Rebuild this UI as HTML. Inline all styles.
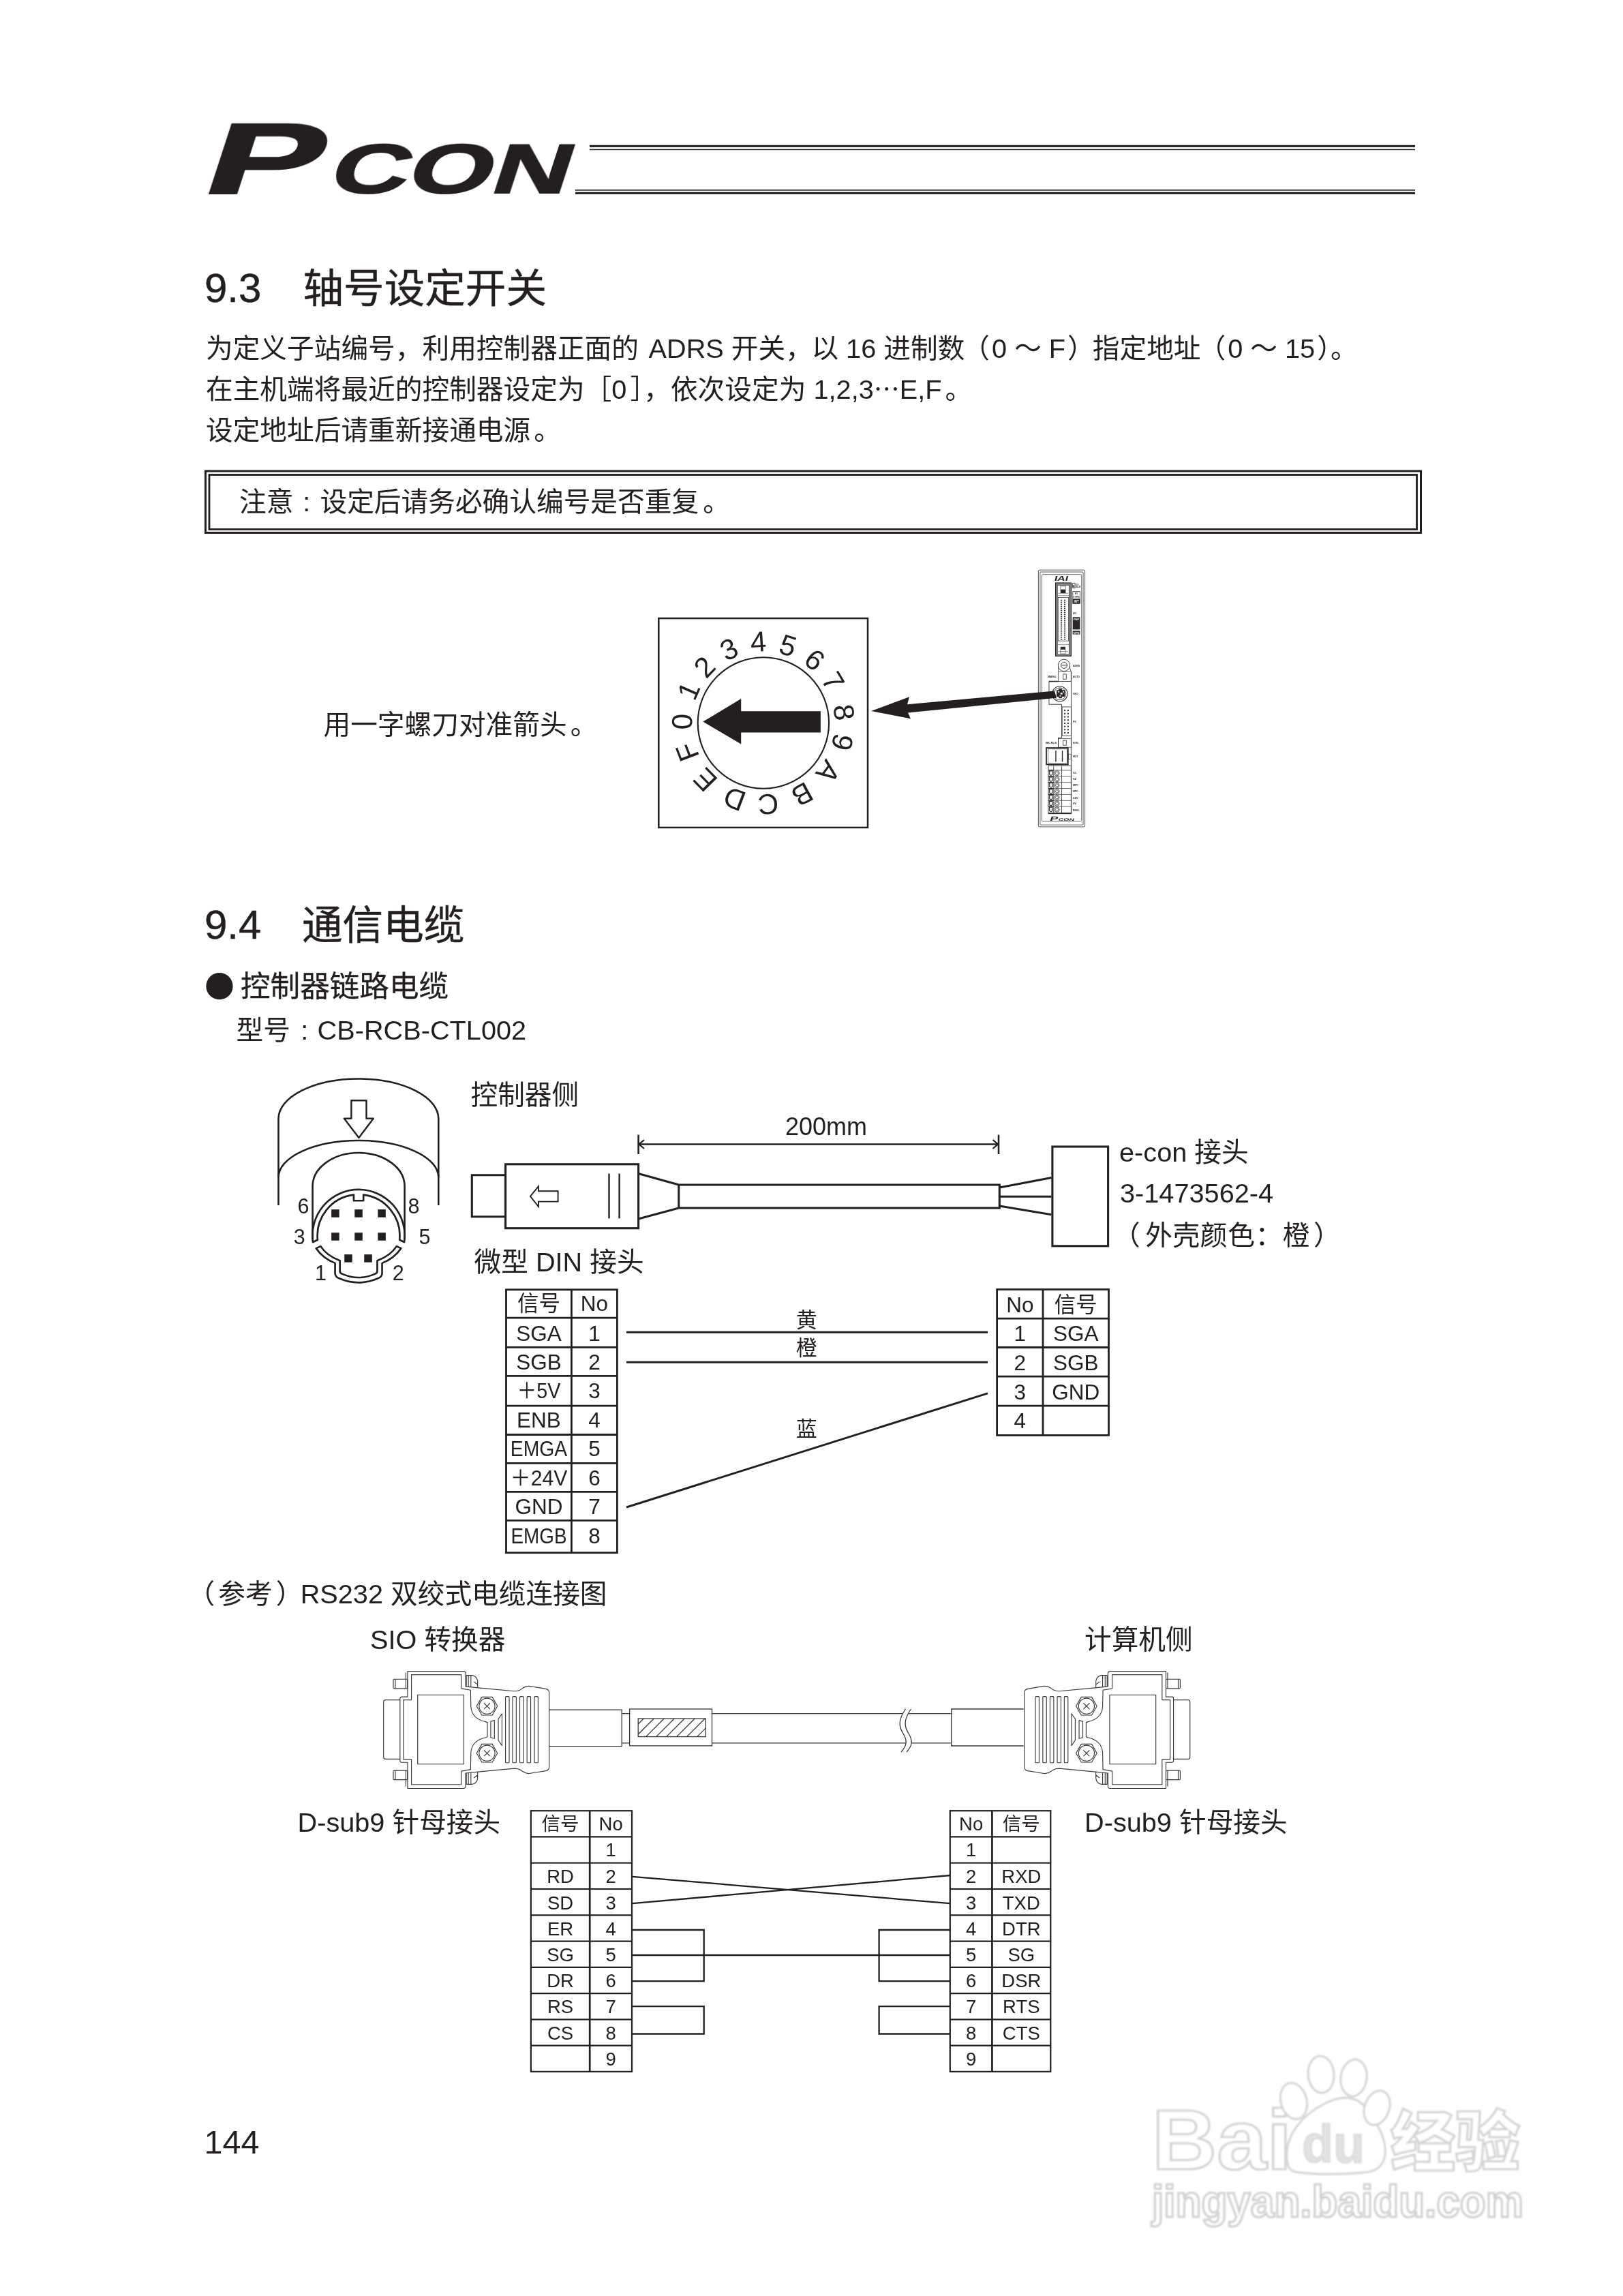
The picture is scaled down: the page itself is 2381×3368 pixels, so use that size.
<!DOCTYPE html>
<html lang="zh-CN">
<head>
<meta charset="utf-8">
<title>PCON 9.3 轴号设定开关 / 9.4 通信电缆</title>
<style>
html,body{margin:0;padding:0;background:#fff;}
body{width:2381px;height:3368px;overflow:hidden;}
svg{display:block;}
svg text{font-family:"Liberation Sans","Noto Sans CJK SC",sans-serif;font-weight:400;fill:#231f20;stroke:none;}
svg .ln{fill:none;stroke:#231f20;}
</style>
</head>
<body>
<svg width="2381" height="3368" viewBox="0 0 2381 3368">
<rect x="0" y="0" width="2381" height="3368" fill="#fff"/>
<g class="ln" fill="none" stroke="#231f20" opacity="0.999">
<g id="logo">
<text transform="translate(292,283) skewX(-18) scale(1.74,1)" x="0" y="0" font-size="147" style="font-weight:700;stroke:#231f20;stroke-width:3px;stroke-linejoin:miter">P</text>
<text transform="translate(478.5,283.3) skewX(-18) scale(1.558,1)" x="0" y="0" font-size="101.5" style="font-weight:700;stroke:#231f20;stroke-width:2px;stroke-linejoin:miter">CON</text>
</g>
<rect x="865" y="212.8" width="1211" height="3.1" stroke-width="0" fill="#231f20" stroke="none"/>
<rect x="865" y="218.7" width="1211" height="1.5" stroke-width="0" fill="#231f20" stroke="none"/>
<rect x="844" y="278.1" width="1232" height="1.6" stroke-width="0" fill="#231f20" stroke="none"/>
<rect x="844" y="281.8" width="1232" height="3.1" stroke-width="0" fill="#231f20" stroke="none"/>
<text x="300" y="442.5" font-size="60" text-anchor="start" style="stroke:#231f20;stroke-width:0.5px">9.3</text>
<text x="444.5" y="443.8" font-size="59.6" text-anchor="start" style="stroke:#231f20;stroke-width:0.45px">轴号设定开关</text>
<text x="302" y="525" font-size="39.7" text-anchor="start" >为定义子站编号，利用控制器正面的<tspan dx="3.5"> </tspan>ADRS 开关，<tspan dx="-1.5">以</tspan> 16 进制数<tspan dx="-3">（</tspan><tspan dx="3">0</tspan> ～ F<tspan dx="3">）</tspan><tspan dx="-3">指定地址</tspan><tspan dx="-3">（</tspan><tspan dx="3">0</tspan> ～ 15<tspan dx="3">）</tspan>。</text>
<text x="302" y="585" font-size="39.7" text-anchor="start" >在主机端将最近的控制器设定为［0<tspan dx="5">］</tspan>，依次设定为<tspan dx="0.1"> </tspan>1,2,3<tspan style="font-family:'Noto Sans CJK SC',sans-serif" font-size="38">…</tspan>E,F<tspan dx="5">。</tspan></text>
<text x="302" y="645" font-size="39.7" text-anchor="start" >设定地址后请重新接通电源<tspan dx="5">。</tspan></text>
<rect x="301.5" y="691" width="1783.0" height="90.5" stroke-width="3" />
<rect x="307" y="696.5" width="1771.5" height="80.0" stroke-width="2.8" />
<text x="351" y="750" font-size="39.7" text-anchor="start" >注意<tspan dx="13.9">:</tspan><tspan dx="14.2">设定后请务必确认编号是否重复</tspan><tspan dx="6">。</tspan></text>
<text x="474.5" y="1077" font-size="39.7" text-anchor="start" >用一字螺刀对准箭头<tspan dx="5">。</tspan></text>
<rect x="966.3" y="907" width="306.70000000000005" height="306.9000000000001" stroke-width="2.5" />
<circle cx="1119.9" cy="1060.5" r="96.2" stroke-width="2.1"/>
<g id="dial" font-size="42" text-anchor="middle">
<text transform="translate(1000.1,1058.6) rotate(270.9)" x="0" y="15">0</text>
<text transform="translate(1009.9,1013.1) rotate(293.3)" x="0" y="15">1</text>
<text transform="translate(1033.1,977.9) rotate(313.6)" x="0" y="15">2</text>
<text transform="translate(1069.1,952.0) rotate(334.9)" x="0" y="15">3</text>
<text transform="translate(1112.4,940.9) rotate(356.4)" x="0" y="15">4</text>
<text transform="translate(1156.3,946.4) rotate(377.7)" x="0" y="15">5</text>
<text transform="translate(1195.5,967.5) rotate(399.1)" x="0" y="15">6</text>
<text transform="translate(1222.7,999.0) rotate(419.1)" x="0" y="15">7</text>
<text transform="translate(1238.7,1044.9) rotate(442.5)" x="0" y="15">8</text>
<text transform="translate(1236.3,1088.9) rotate(463.7)" x="0" y="15">9</text>
<text transform="translate(1215.7,1132.4) rotate(486.9)" x="0" y="15">A</text>
<text transform="translate(1177.2,1165.7) rotate(511.4)" x="0" y="15">B</text>
<text transform="translate(1127.0,1180.1) rotate(536.6)" x="0" y="15">C</text>
<text transform="translate(1077.4,1172.5) rotate(560.8)" x="0" y="15">D</text>
<text transform="translate(1034.3,1144.3) rotate(585.6)" x="0" y="15">E</text>
<text transform="translate(1008.0,1103.2) rotate(609.1)" x="0" y="15">F</text>
</g>
<path d="M1031.3 1058.6 L1087.2 1025.1 L1087.2 1043.3 L1203.9 1043.3 L1203.9 1074.4 L1087.2 1074.4 L1087.2 1091.5 Z" fill="#231f20" stroke="none"/>
<g id="device" transform="translate(1500,825) scale(0.087085)" stroke="#2b2728" fill="none"><rect x="268" y="128" width="784" height="4326" rx="22" fill="#fff" stroke-width="9"/>
<rect x="297" y="160" width="726" height="4262" rx="14" stroke="#8d8d8d" stroke-width="16"/>
<rect x="326" y="203" width="670" height="4156" rx="18" stroke-width="8"/>
<text transform="translate(530,312) skewX(-14) scale(1.55,1)" x="0" y="0" font-size="118" style="font-weight:700" fill="#2b2728" stroke="none">IAI</text>
<rect x="558" y="345" width="262" height="1232" fill="#8a8a8a" stroke-width="14"/>
<rect x="588" y="385" width="196" height="1165" fill="#fff" stroke-width="8"/>
<rect x="600" y="592" width="176" height="730" fill="#fff" stroke-width="8"/>
<rect x="643" y="628" width="24" height="18" fill="#2b2728" stroke="none"/>
<rect x="700" y="628" width="24" height="18" fill="#2b2728" stroke="none"/>
<rect x="643" y="663" width="24" height="18" fill="#2b2728" stroke="none"/>
<rect x="700" y="663" width="24" height="18" fill="#2b2728" stroke="none"/>
<rect x="643" y="697" width="24" height="18" fill="#2b2728" stroke="none"/>
<rect x="700" y="697" width="24" height="18" fill="#2b2728" stroke="none"/>
<rect x="643" y="732" width="24" height="18" fill="#2b2728" stroke="none"/>
<rect x="700" y="732" width="24" height="18" fill="#2b2728" stroke="none"/>
<rect x="643" y="766" width="24" height="18" fill="#2b2728" stroke="none"/>
<rect x="700" y="766" width="24" height="18" fill="#2b2728" stroke="none"/>
<rect x="643" y="801" width="24" height="18" fill="#2b2728" stroke="none"/>
<rect x="700" y="801" width="24" height="18" fill="#2b2728" stroke="none"/>
<rect x="643" y="836" width="24" height="18" fill="#2b2728" stroke="none"/>
<rect x="700" y="836" width="24" height="18" fill="#2b2728" stroke="none"/>
<rect x="643" y="870" width="24" height="18" fill="#2b2728" stroke="none"/>
<rect x="700" y="870" width="24" height="18" fill="#2b2728" stroke="none"/>
<rect x="643" y="905" width="24" height="18" fill="#2b2728" stroke="none"/>
<rect x="700" y="905" width="24" height="18" fill="#2b2728" stroke="none"/>
<rect x="643" y="939" width="24" height="18" fill="#2b2728" stroke="none"/>
<rect x="700" y="939" width="24" height="18" fill="#2b2728" stroke="none"/>
<rect x="643" y="974" width="24" height="18" fill="#2b2728" stroke="none"/>
<rect x="700" y="974" width="24" height="18" fill="#2b2728" stroke="none"/>
<rect x="643" y="1009" width="24" height="18" fill="#2b2728" stroke="none"/>
<rect x="700" y="1009" width="24" height="18" fill="#2b2728" stroke="none"/>
<rect x="643" y="1043" width="24" height="18" fill="#2b2728" stroke="none"/>
<rect x="700" y="1043" width="24" height="18" fill="#2b2728" stroke="none"/>
<rect x="643" y="1078" width="24" height="18" fill="#2b2728" stroke="none"/>
<rect x="700" y="1078" width="24" height="18" fill="#2b2728" stroke="none"/>
<rect x="643" y="1112" width="24" height="18" fill="#2b2728" stroke="none"/>
<rect x="700" y="1112" width="24" height="18" fill="#2b2728" stroke="none"/>
<rect x="643" y="1147" width="24" height="18" fill="#2b2728" stroke="none"/>
<rect x="700" y="1147" width="24" height="18" fill="#2b2728" stroke="none"/>
<rect x="643" y="1182" width="24" height="18" fill="#2b2728" stroke="none"/>
<rect x="700" y="1182" width="24" height="18" fill="#2b2728" stroke="none"/>
<rect x="643" y="1216" width="24" height="18" fill="#2b2728" stroke="none"/>
<rect x="700" y="1216" width="24" height="18" fill="#2b2728" stroke="none"/>
<rect x="643" y="1251" width="24" height="18" fill="#2b2728" stroke="none"/>
<rect x="700" y="1251" width="24" height="18" fill="#2b2728" stroke="none"/>
<rect x="643" y="1285" width="24" height="18" fill="#2b2728" stroke="none"/>
<rect x="700" y="1285" width="24" height="18" fill="#2b2728" stroke="none"/>
<rect x="640" y="455" width="88" height="62" fill="#2b2728" stroke="none"/>
<path d="M640 455 L640 400 L728 400 L728 455 M588 560 L784 560 M600 520 L770 520" stroke-width="6"/>
<rect x="640" y="1422" width="84" height="46" fill="#2b2728" stroke="none"/>
<path d="M640 1468 L640 1540 L724 1540 L724 1468 M588 1385 L784 1385 M600 1500 L770 1500" stroke-width="6"/>
<rect x="846" y="352" width="40" height="78" stroke-width="10"/>
<rect x="856" y="380" width="18" height="40" fill="#2b2728" stroke="none"/>
<text x="905" y="385" font-size="34" style="font-weight:700" stroke="none">0V</text>
<text x="905" y="428" font-size="34" style="font-weight:700" stroke="none">ALM</text>
<rect x="848" y="488" width="120" height="204" stroke-width="9"/>
<text x="908" y="540" font-size="40" text-anchor="middle" style="font-weight:700" stroke="none">RY</text>
<text x="908" y="598" font-size="40" text-anchor="middle" style="font-weight:700" stroke="none">TYPE</text>
<rect x="846" y="612" width="124" height="82" fill="#2b2728" stroke="none"/>
<text x="908" y="678" font-size="52" text-anchor="middle" style="font-weight:700;fill:#fff" stroke="none">INT</text>
<text x="848" y="868" font-size="46" style="font-weight:700" stroke="none">I/O</text>
<rect x="846" y="922" width="124" height="208" fill="#2b2728" stroke="none"/>
<text x="908" y="972" font-size="46" text-anchor="middle" style="font-weight:700;fill:#fff" stroke="none">PNP</text>
<rect x="846" y="1152" width="124" height="60" fill="#2b2728" stroke="none"/>
<text x="908" y="1203" font-size="46" text-anchor="middle" style="font-weight:700;fill:#fff" stroke="none">NPN</text>
<path d="M605 2000 L605 1790 A100 100 0 1 1 800 1790 L820 1840 L820 2000" fill="#fff" stroke-width="9"/>
<circle cx="700" cy="1733" r="100" fill="#fff" stroke-width="10"/>
<circle cx="700" cy="1733" r="52" stroke-width="10"/>
<line x1="650" y1="1733" x2="750" y2="1733" stroke-width="10"/>
<line x1="610" y1="1838" x2="815" y2="1838" stroke-width="8"/>
<rect x="686" y="1882" width="52" height="84" stroke-width="9"/>
<text x="850" y="1752" font-size="46" style="font-weight:700" stroke="none" textLength="116" lengthAdjust="spacingAndGlyphs">ADRS</text>
<text x="850" y="1945" font-size="46" style="font-weight:700" stroke="none" textLength="116" lengthAdjust="spacingAndGlyphs">AUTO</text>
<text x="850" y="2225" font-size="46" style="font-weight:700" stroke="none" textLength="87" lengthAdjust="spacingAndGlyphs">SIO</text>
<text x="850" y="2704" font-size="46" style="font-weight:700" stroke="none" textLength="58" lengthAdjust="spacingAndGlyphs">PG</text>
<text x="850" y="3059" font-size="46" style="font-weight:700" stroke="none" textLength="87" lengthAdjust="spacingAndGlyphs">NOM</text>
<text x="850" y="3287" font-size="46" style="font-weight:700" stroke="none" textLength="87" lengthAdjust="spacingAndGlyphs">MOT</text>
<text x="850" y="3564" font-size="46" style="font-weight:700" stroke="none" textLength="58" lengthAdjust="spacingAndGlyphs">S1</text>
<text x="850" y="3667" font-size="46" style="font-weight:700" stroke="none" textLength="58" lengthAdjust="spacingAndGlyphs">S2</text>
<text x="850" y="3772" font-size="46" style="font-weight:700" stroke="none" textLength="87" lengthAdjust="spacingAndGlyphs">MPI</text>
<text x="850" y="3874" font-size="46" style="font-weight:700" stroke="none" textLength="87" lengthAdjust="spacingAndGlyphs">MPO</text>
<text x="850" y="3979" font-size="46" style="font-weight:700" stroke="none" textLength="87" lengthAdjust="spacingAndGlyphs">24V</text>
<text x="850" y="4082" font-size="46" style="font-weight:700" stroke="none" textLength="58" lengthAdjust="spacingAndGlyphs">0V</text>
<text x="850" y="4186" font-size="46" style="font-weight:700" stroke="none" textLength="116" lengthAdjust="spacingAndGlyphs">EMG-</text>
<text x="425" y="1945" font-size="46" style="font-weight:700" stroke="none" textLength="145" lengthAdjust="spacingAndGlyphs">MANU</text>
<text x="390" y="3059" font-size="46" style="font-weight:700" stroke="none" textLength="185" lengthAdjust="spacingAndGlyphs">BK RLS</text>
<path d="M820 2004 L447 2004 L447 2391 L660 2391 L660 2954 L603 2954 L603 3114" stroke-width="10"/>
<path d="M447 2004 L600 2004" stroke-width="18"/>
<line x1="820" y1="1840" x2="820" y2="4234" stroke-width="10"/>
<circle cx="630" cy="2214" r="128" fill="#fff" stroke-width="12"/>
<circle cx="630" cy="2214" r="103" stroke-width="9"/>
<path d="M575 2150 L610 2150 L610 2128 L665 2128 L665 2150 L715 2150 L715 2262 L665 2262 L665 2288 L610 2288 L610 2262 L575 2262 Z" fill="#2b2728" stroke="none"/>
<rect x="640" y="2196" width="34" height="28" fill="#fff" stroke="none"/>
<rect x="600" y="2170" width="22" height="20" fill="#fff" stroke="none"/>
<rect x="682" y="2170" width="18" height="20" fill="#fff" stroke="none"/>
<rect x="625" y="2240" width="22" height="18" fill="#fff" stroke="none"/>
<rect x="668" y="2434" width="152" height="485" stroke-width="9"/>
<rect x="700" y="2482" width="24" height="22" fill="#2b2728" stroke="none"/>
<rect x="756" y="2482" width="24" height="22" fill="#2b2728" stroke="none"/>
<rect x="700" y="2536" width="24" height="22" fill="#2b2728" stroke="none"/>
<rect x="756" y="2536" width="24" height="22" fill="#2b2728" stroke="none"/>
<rect x="700" y="2590" width="24" height="22" fill="#2b2728" stroke="none"/>
<rect x="756" y="2590" width="24" height="22" fill="#2b2728" stroke="none"/>
<rect x="700" y="2644" width="24" height="22" fill="#2b2728" stroke="none"/>
<rect x="756" y="2644" width="24" height="22" fill="#2b2728" stroke="none"/>
<rect x="700" y="2698" width="24" height="22" fill="#2b2728" stroke="none"/>
<rect x="756" y="2698" width="24" height="22" fill="#2b2728" stroke="none"/>
<rect x="700" y="2752" width="24" height="22" fill="#2b2728" stroke="none"/>
<rect x="756" y="2752" width="24" height="22" fill="#2b2728" stroke="none"/>
<rect x="700" y="2806" width="24" height="22" fill="#2b2728" stroke="none"/>
<rect x="756" y="2806" width="24" height="22" fill="#2b2728" stroke="none"/>
<rect x="700" y="2860" width="24" height="22" fill="#2b2728" stroke="none"/>
<rect x="756" y="2860" width="24" height="22" fill="#2b2728" stroke="none"/>
<rect x="603" y="2967" width="217" height="147" stroke-width="8"/>
<rect x="682" y="2999" width="56" height="80" stroke-width="9"/>
<rect x="402" y="3124" width="365" height="280" stroke-width="20"/>
<rect x="430" y="3144" width="320" height="240" stroke-width="7"/>
<line x1="562" y1="3169" x2="562" y2="3359" stroke-width="16"/>
<line x1="672" y1="3169" x2="672" y2="3359" stroke-width="16"/>
<rect x="775" y="3229" width="42" height="85" stroke-width="7"/>
<rect x="437" y="3424" width="383" height="810" stroke-width="10"/>
<line x1="525" y1="3424" x2="525" y2="4234" stroke-width="9"/>
<line x1="660" y1="3424" x2="660" y2="4234" stroke-width="9"/>
<rect x="437" y="4214" width="383" height="22" fill="#2b2728" stroke="none"/>
<line x1="437" y1="3501" x2="820" y2="3501" stroke-width="8"/>
<path d="M455 3513 L455 3563 Q455 3585 480 3585 Q505 3585 505 3563 L505 3513 Z" fill="#fff" stroke-width="13"/>
<line x1="437" y1="3501" x2="525" y2="3501" stroke-width="14"/>
<circle cx="580" cy="3551" r="42" fill="#fff" stroke-width="9"/>
<circle cx="580" cy="3551" r="24" stroke-width="8"/>
<line x1="437" y1="3603" x2="820" y2="3603" stroke-width="8"/>
<path d="M455 3615 L455 3665 Q455 3687 480 3687 Q505 3687 505 3665 L505 3615 Z" fill="#fff" stroke-width="13"/>
<line x1="437" y1="3603" x2="525" y2="3603" stroke-width="14"/>
<circle cx="580" cy="3653" r="42" fill="#fff" stroke-width="9"/>
<circle cx="580" cy="3653" r="24" stroke-width="8"/>
<line x1="437" y1="3705" x2="820" y2="3705" stroke-width="8"/>
<path d="M455 3717 L455 3767 Q455 3789 480 3789 Q505 3789 505 3767 L505 3717 Z" fill="#fff" stroke-width="13"/>
<line x1="437" y1="3705" x2="525" y2="3705" stroke-width="14"/>
<circle cx="580" cy="3755" r="42" fill="#fff" stroke-width="9"/>
<circle cx="580" cy="3755" r="24" stroke-width="8"/>
<line x1="437" y1="3807" x2="820" y2="3807" stroke-width="8"/>
<path d="M455 3819 L455 3869 Q455 3891 480 3891 Q505 3891 505 3869 L505 3819 Z" fill="#fff" stroke-width="13"/>
<line x1="437" y1="3807" x2="525" y2="3807" stroke-width="14"/>
<circle cx="580" cy="3857" r="42" fill="#fff" stroke-width="9"/>
<circle cx="580" cy="3857" r="24" stroke-width="8"/>
<line x1="437" y1="3909" x2="820" y2="3909" stroke-width="8"/>
<path d="M455 3921 L455 3971 Q455 3993 480 3993 Q505 3993 505 3971 L505 3921 Z" fill="#fff" stroke-width="13"/>
<line x1="437" y1="3909" x2="525" y2="3909" stroke-width="14"/>
<circle cx="580" cy="3959" r="42" fill="#fff" stroke-width="9"/>
<circle cx="580" cy="3959" r="24" stroke-width="8"/>
<line x1="437" y1="4011" x2="820" y2="4011" stroke-width="8"/>
<path d="M455 4023 L455 4073 Q455 4095 480 4095 Q505 4095 505 4073 L505 4023 Z" fill="#fff" stroke-width="13"/>
<line x1="437" y1="4011" x2="525" y2="4011" stroke-width="14"/>
<circle cx="580" cy="4061" r="42" fill="#fff" stroke-width="9"/>
<circle cx="580" cy="4061" r="24" stroke-width="8"/>
<line x1="437" y1="4113" x2="820" y2="4113" stroke-width="8"/>
<path d="M455 4125 L455 4175 Q455 4197 480 4197 Q505 4197 505 4175 L505 4125 Z" fill="#fff" stroke-width="13"/>
<line x1="437" y1="4113" x2="525" y2="4113" stroke-width="14"/>
<circle cx="580" cy="4163" r="42" fill="#fff" stroke-width="9"/>
<circle cx="580" cy="4163" r="24" stroke-width="8"/>
<text transform="translate(455,4351) skewX(-18) scale(2.0,1)" x="0" y="0" font-size="104" style="font-weight:700" fill="#2b2728" stroke="none">P</text>
<text transform="translate(600,4351) skewX(-18) scale(2.0,1)" x="0" y="0" font-size="60" style="font-weight:700" fill="#2b2728" stroke="none">CON</text></g>
<path d="M1278.1 1043 L1334 1022.3 L1331 1033.3 L1547 1013.5 L1550 1023.7 L1332 1045.5 L1336 1054.2 Z" fill="#231f20" stroke="none"/>
<text x="300" y="1377" font-size="60" text-anchor="start" style="stroke:#231f20;stroke-width:0.5px">9.4</text>
<text x="443" y="1378" font-size="59.6" text-anchor="start" style="stroke:#231f20;stroke-width:0.45px">通信电缆</text>
<circle cx="322" cy="1446.7" r="19.6" fill="#231f20" stroke="none"/>
<text x="353" y="1462" font-size="43.6" text-anchor="start" style="stroke:#231f20;stroke-width:0.3px">控制器链路电缆</text>
<text x="346.5" y="1524.5" font-size="39.7" text-anchor="start" >型号<tspan dx="15.4">:</tspan><tspan dx="13.3">CB-RCB-CTL002</tspan></text>
<text x="690.5" y="1619.5" font-size="39.7" text-anchor="start" >控制器侧</text>
<text x="695.5" y="1864.5" font-size="39.7" text-anchor="start" >微型 DIN 接头</text>
<text x="1212" y="1664.7" font-size="36" text-anchor="middle" >200mm</text>
<text x="1642" y="1704" font-size="39.7" text-anchor="start" >e-con 接头</text>
<text x="1643" y="1763.5" font-size="39.7" text-anchor="start" >3-1473562-4</text>
<text x="1633" y="1826" font-size="39.7" text-anchor="start" style="letter-spacing:0.6px">（<tspan dx="7">外壳颜色：橙</tspan><tspan dx="5">）</tspan></text>
<g id="din" stroke-width="2.6" stroke-linecap="butt" stroke-linejoin="round">
<path d="M408.5 1768 L408.5 1641 A117.4 58.5 0 0 1 643.3 1641 L643.3 1768"/>
<path d="M408.5 1727 A117.4 54 0 0 1 643.3 1727"/>
<path d="M458.6 1818 L458.6 1740 A67.5 49 0 0 1 593.6 1740 L593.6 1818"/>
<path d="M515.4 1614.3 L537.5 1614.3 L537.5 1640.7 L547.8 1640.7 L526.4 1669 L504.9 1640.7 L515.4 1640.7 Z" stroke-width="2.4"/>
</g>
<g id="dinring" transform="translate(440,1730) scale(0.110905)" stroke-width="24" stroke-linejoin="round">
<path d="M172 830 A610 610 0 1 1 1380 830 L1318 800 A545 545 0 0 0 840 204 L840 282 L712 282 L712 204 A545 545 0 0 0 234 800 Z"/>
<path d="M215 912 Q300 1040 465 1108 L465 1240 Q465 1290 520 1310 Q776 1420 1032 1310 Q1087 1290 1087 1240 L1087 1108 Q1252 1040 1337 912 L1278 885 Q1200 1010 1023 1075 L1023 1215 Q1023 1240 990 1252 Q776 1345 562 1252 Q529 1240 529 1215 L529 1075 Q352 1010 274 885 Z"/>
<rect x="416" y="398" width="104" height="104" fill="#231f20" stroke="none"/>
<rect x="724" y="398" width="104" height="104" fill="#231f20" stroke="none"/>
<rect x="1031" y="398" width="104" height="104" fill="#231f20" stroke="none"/>
<rect x="416" y="705" width="104" height="104" fill="#231f20" stroke="none"/>
<rect x="724" y="705" width="104" height="104" fill="#231f20" stroke="none"/>
<rect x="1031" y="705" width="104" height="104" fill="#231f20" stroke="none"/>
<rect x="588" y="993" width="104" height="104" fill="#231f20" stroke="none"/>
<rect x="850" y="993" width="104" height="104" fill="#231f20" stroke="none"/>
</g>
<text x="445" y="1779.8" font-size="30.5" text-anchor="middle" >6</text>
<text x="606.9" y="1779.8" font-size="30.5" text-anchor="middle" >8</text>
<text x="439.2" y="1824.8" font-size="30.5" text-anchor="middle" >3</text>
<text x="622.9" y="1824.8" font-size="30.5" text-anchor="middle" >5</text>
<text x="470.5" y="1878" font-size="30.5" text-anchor="middle" >1</text>
<text x="584.2" y="1878" font-size="30.5" text-anchor="middle" >2</text>
<g id="cable1" stroke-width="3.1" stroke-linejoin="miter">
<path d="M741.6 1723.8 L692.3 1723.8 L692.3 1784.8 L741.6 1784.8"/>
<rect x="741.6" y="1707.8" width="195" height="93.9"/>
<path d="M936.6 1721.6 L995.8 1738 L1466.3 1738 L1466.3 1772 L995.8 1772 L936.6 1788"/>
<line x1="995.8" y1="1738" x2="995.8" y2="1772"/>
<line x1="893.5" y1="1721.6" x2="893.5" y2="1787.3" stroke-width="2.4"/>
<line x1="908.6" y1="1721.6" x2="908.6" y2="1787.3" stroke-width="2.4"/>
<path d="M778 1754.9 L790 1740.1 L790 1747.2 L818.6 1747.2 L818.6 1762.6 L790 1762.6 L790 1770 Z" stroke-width="1.9"/>
<line x1="1466.3" y1="1742" x2="1542.5" y2="1727.6"/>
<line x1="1466.3" y1="1755.3" x2="1542.5" y2="1755.3"/>
<line x1="1466.3" y1="1769" x2="1542.5" y2="1781.8"/>
<rect x="1543.9" y="1682" width="81.7" height="145.8"/>
</g>
<g id="dim" stroke-width="2.3">
<line x1="936.6" y1="1678.5" x2="1465" y2="1678.5"/>
<line x1="936.6" y1="1664.6" x2="936.6" y2="1693" stroke-width="2.6"/>
<line x1="1465" y1="1664.6" x2="1465" y2="1693" stroke-width="2.6"/>
<path d="M945 1672 L937.5 1678.5 L945 1685"/>
<path d="M1456.5 1672 L1464 1678.5 L1456.5 1685"/>
</g>
<g stroke-width="2.8">
<rect x="742.5" y="1891.8" width="162.89999999999998" height="385.89999999999986"/>
<line x1="838.4" y1="1891.8" x2="838.4" y2="2277.7" stroke-width="2.8"/>
<line x1="742.5" y1="1933.2" x2="905.4" y2="1933.2"/>
<line x1="742.5" y1="1976.4" x2="905.4" y2="1976.4"/>
<line x1="742.5" y1="2018.4" x2="905.4" y2="2018.4"/>
<line x1="742.5" y1="2062.1" x2="905.4" y2="2062.1"/>
<line x1="742.5" y1="2104.5" x2="905.4" y2="2104.5"/>
<line x1="742.5" y1="2146.4" x2="905.4" y2="2146.4"/>
<line x1="742.5" y1="2188.4" x2="905.4" y2="2188.4"/>
<line x1="742.5" y1="2230.4" x2="905.4" y2="2230.4"/>
</g>
<g font-size="31.5" text-anchor="middle">
<text x="790.5" y="1923.4">信号</text>
<text x="871.9" y="1923.4">No</text>
<text x="790.5" y="1967.0">SGA</text>
<text x="871.9" y="1967.0">1</text>
<text x="790.5" y="2008.9">SGB</text>
<text x="871.9" y="2008.9">2</text>
<text x="790.5" y="2051.1" textLength="64" lengthAdjust="spacingAndGlyphs">＋5V</text>
<text x="871.9" y="2051.1">3</text>
<text x="790.5" y="2093.8">ENB</text>
<text x="871.9" y="2093.8">4</text>
<text x="790.5" y="2136.3" textLength="83.4" lengthAdjust="spacingAndGlyphs">EMGA</text>
<text x="871.9" y="2136.3">5</text>
<text x="790.5" y="2178.6" textLength="84" lengthAdjust="spacingAndGlyphs">＋24V</text>
<text x="871.9" y="2178.6">6</text>
<text x="790.5" y="2220.7">GND</text>
<text x="871.9" y="2220.7">7</text>
<text x="790.5" y="2263.9" textLength="82" lengthAdjust="spacingAndGlyphs">EMGB</text>
<text x="871.9" y="2263.9">8</text>
</g>
<g stroke-width="2.8">
<rect x="1462.6" y="1891.5" width="163.9000000000001" height="213.9000000000001"/>
<line x1="1530" y1="1891.5" x2="1530" y2="2105.4" stroke-width="2.8"/>
<line x1="1462.6" y1="1934.2" x2="1626.5" y2="1934.2"/>
<line x1="1462.6" y1="1976.5" x2="1626.5" y2="1976.5"/>
<line x1="1462.6" y1="2019.2" x2="1626.5" y2="2019.2"/>
<line x1="1462.6" y1="2062.1" x2="1626.5" y2="2062.1"/>
</g>
<g font-size="31.5" text-anchor="middle">
<text x="1496.3" y="1925.0">No</text>
<text x="1578.2" y="1925.0">信号</text>
<text x="1496.3" y="1966.9">1</text>
<text x="1578.2" y="1966.9">SGA</text>
<text x="1496.3" y="2009.6">2</text>
<text x="1578.2" y="2009.6">SGB</text>
<text x="1496.3" y="2052.5">3</text>
<text x="1578.2" y="2052.5">GND</text>
<text x="1496.3" y="2095.0">4</text>
</g>
<g stroke-width="2.2">
<line x1="919" y1="1954.3" x2="1449" y2="1954.3" stroke-width="2.9" />
<line x1="919" y1="1998.3" x2="1449" y2="1998.3" stroke-width="2.9" />
<line x1="919" y1="2211" x2="1449" y2="2043.8" stroke-width="2.9" />
</g>
<text x="1183.3" y="1947.3" font-size="31" text-anchor="middle" >黄</text>
<text x="1183.3" y="1987.7" font-size="31" text-anchor="middle" >橙</text>
<text x="1183.3" y="2107" font-size="31" text-anchor="middle" >蓝</text>
<text x="275.6" y="2351.5" font-size="39.7" text-anchor="start" >（<tspan dx="5">参考</tspan><tspan dx="5">）</tspan><tspan dx="-3.7">RS232 双绞式电缆连接图</tspan></text>
<text x="543" y="2419" font-size="39.7" text-anchor="start" >SIO 转换器</text>
<text x="1591" y="2419" font-size="39.7" text-anchor="start" >计算机侧</text>
<text x="436.5" y="2687.4" font-size="39.7" text-anchor="start" >D-sub9 针母接头</text>
<text x="1591" y="2687.4" font-size="39.7" text-anchor="start" >D-sub9 针母接头</text>
<g id="dsubL" transform="translate(540,2430) scale(0.24646)" stroke-width="4.6" stroke="#3a3637" stroke-linejoin="round"><rect x="92" y="258" width="118" height="352" rx="12"/>
<path d="M235 88 L568 88 Q580 88 580 100 L580 178 L655 186 L870 206 Q900 206 920 188 Q940 174 960 176 L1058 192 Q1078 196 1078 216 L1078 656 Q1078 676 1058 680 L960 696 Q940 698 920 684 Q900 666 870 666 L655 686 L580 694 L580 772 Q580 785 568 785 L235 785 L235 630 L200 630 Q190 630 190 620 L190 250 Q190 240 200 240 L235 240 Z" fill="#fff"/>
<path d="M258 108 L555 108 L555 190 L610 200 L612 300 Q618 370 700 388 L710 392 L710 478 L700 482 Q618 500 612 570 L610 672 L555 682 L555 762 L258 762 L258 612 L210 612 L210 258 L258 258 Z"/>
<rect x="295" y="228" width="275" height="412"/>
<polygon points="770,295 739,349 677,349 646,295 677,241 739,241"/>
<circle cx="708" cy="295" r="47"/>
<path d="M690 277 L726 313 M726 277 L690 313"/>
<polygon points="770,575 739,629 677,629 646,575 677,521 739,521"/>
<circle cx="708" cy="575" r="47"/>
<path d="M690 557 L726 593 M726 557 L690 593"/>
<path d="M585 178 L585 112 L620 112 Q650 118 652 150 L652 185 M597 112 L597 180 M612 112 L612 182 M630 150 L650 165"/>
<path d="M585 694 L585 760 L620 760 Q650 754 652 722 L652 687 M597 760 L597 692 M612 760 L612 690 M630 722 L650 707"/>
<rect x="150" y="135" width="85" height="55" rx="5"/>
<line x1="162" y1="135" x2="162" y2="190"/>
<line x1="225" y1="95" x2="225" y2="190"/>
<rect x="150" y="678" width="85" height="55" rx="5"/>
<line x1="162" y1="678" x2="162" y2="733"/>
<line x1="225" y1="678" x2="225" y2="773"/>
<rect x="818" y="238" width="22" height="394" rx="4"/>
<rect x="860" y="238" width="22" height="394" rx="4"/>
<rect x="903" y="238" width="22" height="394" rx="4"/>
<rect x="946" y="238" width="22" height="394" rx="4"/>
<rect x="990" y="238" width="22" height="394" rx="4"/>
<path d="M730 386 L752 380 L752 488 L730 482 Z"/>
<path d="M775 372 L797 340 L797 530 L775 498 Z"/></g>
<g id="dsubR" transform="translate(1768.4,2430) scale(-0.24646,0.24646)" stroke-width="4.6" stroke="#3a3637" stroke-linejoin="round"><rect x="92" y="258" width="118" height="352" rx="12"/>
<path d="M235 88 L568 88 Q580 88 580 100 L580 178 L655 186 L870 206 Q900 206 920 188 Q940 174 960 176 L1058 192 Q1078 196 1078 216 L1078 656 Q1078 676 1058 680 L960 696 Q940 698 920 684 Q900 666 870 666 L655 686 L580 694 L580 772 Q580 785 568 785 L235 785 L235 630 L200 630 Q190 630 190 620 L190 250 Q190 240 200 240 L235 240 Z" fill="#fff"/>
<path d="M258 108 L555 108 L555 190 L610 200 L612 300 Q618 370 700 388 L710 392 L710 478 L700 482 Q618 500 612 570 L610 672 L555 682 L555 762 L258 762 L258 612 L210 612 L210 258 L258 258 Z"/>
<rect x="295" y="228" width="275" height="412"/>
<polygon points="770,295 739,349 677,349 646,295 677,241 739,241"/>
<circle cx="708" cy="295" r="47"/>
<path d="M690 277 L726 313 M726 277 L690 313"/>
<polygon points="770,575 739,629 677,629 646,575 677,521 739,521"/>
<circle cx="708" cy="575" r="47"/>
<path d="M690 557 L726 593 M726 557 L690 593"/>
<path d="M585 178 L585 112 L620 112 Q650 118 652 150 L652 185 M597 112 L597 180 M612 112 L612 182 M630 150 L650 165"/>
<path d="M585 694 L585 760 L620 760 Q650 754 652 722 L652 687 M597 760 L597 692 M612 760 L612 690 M630 722 L650 707"/>
<rect x="150" y="135" width="85" height="55" rx="5"/>
<line x1="162" y1="135" x2="162" y2="190"/>
<line x1="225" y1="95" x2="225" y2="190"/>
<rect x="150" y="678" width="85" height="55" rx="5"/>
<line x1="162" y1="678" x2="162" y2="733"/>
<line x1="225" y1="678" x2="225" y2="773"/>
<rect x="818" y="238" width="22" height="394" rx="4"/>
<rect x="860" y="238" width="22" height="394" rx="4"/>
<rect x="903" y="238" width="22" height="394" rx="4"/>
<rect x="946" y="238" width="22" height="394" rx="4"/>
<rect x="990" y="238" width="22" height="394" rx="4"/>
<path d="M730 386 L752 380 L752 488 L730 482 Z"/>
<path d="M775 372 L797 340 L797 530 L775 498 Z"/></g>
<g id="cable2" stroke-width="1.3" stroke="#3a3637">
<path d="M805.7 2508.2 L912.2 2508.2 L912.2 2561.6 L805.7 2561.6"/>
<line x1="912.2" y1="2513.6" x2="1395.7" y2="2513.6"/>
<line x1="912.2" y1="2556.8" x2="1395.7" y2="2556.8"/>
<rect x="923.6" y="2507" width="120.9" height="53.9" fill="#fff"/>
<rect x="936.2" y="2521" width="99.1" height="26.6"/>
<line x1="936.2" y1="2529.0" x2="944.2" y2="2521.0"/>
<line x1="936.2" y1="2544.0" x2="959.2" y2="2521.0"/>
<line x1="947.6" y1="2547.6" x2="974.2" y2="2521.0"/>
<line x1="962.6" y1="2547.6" x2="989.2" y2="2521.0"/>
<line x1="977.6" y1="2547.6" x2="1004.2" y2="2521.0"/>
<line x1="992.6" y1="2547.6" x2="1019.2" y2="2521.0"/>
<line x1="1007.6" y1="2547.6" x2="1034.2" y2="2521.0"/>
<line x1="1022.6" y1="2547.6" x2="1035.3" y2="2534.9"/>
<path d="M1328.5 2507 C1318 2522 1318 2532 1325 2543 C1331 2553 1331 2560 1322 2570 L1330 2570 C1339 2560 1339 2553 1333 2543 C1326 2532 1326 2522 1336.5 2507 Z" fill="#fff" stroke="none"/>
<path d="M1328.5 2507 C1318 2522 1318 2532 1325 2543 C1331 2553 1331 2560 1322 2570"/>
<path d="M1336.5 2507 C1326 2522 1326 2532 1333 2543 C1339 2553 1339 2560 1330 2570"/>
<path d="M1501.6 2507 L1395.7 2507 L1395.7 2561 L1501.6 2561"/>
</g>
<g stroke-width="2.2">
<rect x="778.9" y="2656.2" width="148.10000000000002" height="382.6999999999998"/>
<line x1="865.2" y1="2656.2" x2="865.2" y2="3038.8999999999996" stroke-width="2.7"/>
<line x1="778.9" y1="2694.47" x2="927" y2="2694.47"/>
<line x1="778.9" y1="2732.74" x2="927" y2="2732.74"/>
<line x1="778.9" y1="2771.0099999999998" x2="927" y2="2771.0099999999998"/>
<line x1="778.9" y1="2809.2799999999997" x2="927" y2="2809.2799999999997"/>
<line x1="778.9" y1="2847.5499999999997" x2="927" y2="2847.5499999999997"/>
<line x1="778.9" y1="2885.8199999999997" x2="927" y2="2885.8199999999997"/>
<line x1="778.9" y1="2924.0899999999997" x2="927" y2="2924.0899999999997"/>
<line x1="778.9" y1="2962.3599999999997" x2="927" y2="2962.3599999999997"/>
<line x1="778.9" y1="3000.6299999999997" x2="927" y2="3000.6299999999997"/>
</g>
<g font-size="27.5" text-anchor="middle">
<text x="822.0" y="2684.8">信号</text>
<text x="896.1" y="2684.8">No</text>
<text x="896.1" y="2723.3">1</text>
<text x="822.0" y="2761.7">RD</text>
<text x="896.1" y="2761.7">2</text>
<text x="822.0" y="2800.5">SD</text>
<text x="896.1" y="2800.5">3</text>
<text x="822.0" y="2838.9">ER</text>
<text x="896.1" y="2838.9">4</text>
<text x="822.0" y="2877.0">SG</text>
<text x="896.1" y="2877.0">5</text>
<text x="822.0" y="2915.4">DR</text>
<text x="896.1" y="2915.4">6</text>
<text x="822.0" y="2953.4">RS</text>
<text x="896.1" y="2953.4">7</text>
<text x="822.0" y="2992.2">CS</text>
<text x="896.1" y="2992.2">8</text>
<text x="896.1" y="3030.3">9</text>
</g>
<g stroke-width="2.2">
<rect x="1393.8" y="2656.2" width="147.5" height="382.6999999999998"/>
<line x1="1455.4" y1="2656.2" x2="1455.4" y2="3038.8999999999996" stroke-width="2.7"/>
<line x1="1393.8" y1="2694.47" x2="1541.3" y2="2694.47"/>
<line x1="1393.8" y1="2732.74" x2="1541.3" y2="2732.74"/>
<line x1="1393.8" y1="2771.0099999999998" x2="1541.3" y2="2771.0099999999998"/>
<line x1="1393.8" y1="2809.2799999999997" x2="1541.3" y2="2809.2799999999997"/>
<line x1="1393.8" y1="2847.5499999999997" x2="1541.3" y2="2847.5499999999997"/>
<line x1="1393.8" y1="2885.8199999999997" x2="1541.3" y2="2885.8199999999997"/>
<line x1="1393.8" y1="2924.0899999999997" x2="1541.3" y2="2924.0899999999997"/>
<line x1="1393.8" y1="2962.3599999999997" x2="1541.3" y2="2962.3599999999997"/>
<line x1="1393.8" y1="3000.6299999999997" x2="1541.3" y2="3000.6299999999997"/>
</g>
<g font-size="27.5" text-anchor="middle">
<text x="1424.6" y="2684.8">No</text>
<text x="1498.3" y="2684.8">信号</text>
<text x="1424.6" y="2723.3">1</text>
<text x="1424.6" y="2761.7">2</text>
<text x="1498.3" y="2761.7">RXD</text>
<text x="1424.6" y="2800.5">3</text>
<text x="1498.3" y="2800.5">TXD</text>
<text x="1424.6" y="2838.9">4</text>
<text x="1498.3" y="2838.9">DTR</text>
<text x="1424.6" y="2877.0">5</text>
<text x="1498.3" y="2877.0">SG</text>
<text x="1424.6" y="2915.4">6</text>
<text x="1498.3" y="2915.4">DSR</text>
<text x="1424.6" y="2953.4">7</text>
<text x="1498.3" y="2953.4">RTS</text>
<text x="1424.6" y="2992.2">8</text>
<text x="1498.3" y="2992.2">CTS</text>
<text x="1424.6" y="3030.3">9</text>
</g>
<g id="wires2" stroke-width="2.3">
<line x1="928" y1="2752.8" x2="1393.8" y2="2792.2"/>
<line x1="928" y1="2792.2" x2="1393.8" y2="2751"/>
<path d="M928 2831 L1032.7 2831 L1032.7 2906.2 L928 2906.2"/>
<line x1="928" y1="2868" x2="1393.8" y2="2868"/>
<path d="M928 2943.1 L1032.7 2943.1 L1032.7 2983.5 L928 2983.5"/>
<path d="M1393.8 2831 L1289.6 2831 L1289.6 2906.2 L1393.8 2906.2"/>
<path d="M1393.8 2943.1 L1289.6 2943.1 L1289.6 2983.5 L1393.8 2983.5"/>
</g>
<text x="299.5" y="3158.7" font-size="48.5" text-anchor="start" >144</text>
<defs><filter id="soft" x="-5%" y="-5%" width="110%" height="110%"><feGaussianBlur stdDeviation="1.3"/></filter></defs>
<g id="wm" filter="url(#soft)">
<text x="1690" y="3182" font-size="124" style="font-weight:700;fill:#fff;stroke:#d4d4d4;stroke-width:3.2px" textLength="205" lengthAdjust="spacingAndGlyphs">Bai</text>
<text x="2040" y="3176" font-size="96" style="font-weight:900;fill:#fff;stroke:#d4d4d4;stroke-width:3.2px" textLength="190" lengthAdjust="spacingAndGlyphs">经验</text>
<text x="1690" y="3252" font-size="66" style="font-weight:700;fill:#fff;stroke:#d0d0d0;stroke-width:3.2px" textLength="545" lengthAdjust="spacingAndGlyphs">jingyan.baidu.com</text>
<path d="M1890 3178 C1880 3140 1905 3105 1945 3085 C1985 3065 2005 3085 2022 3120 C2040 3155 2035 3185 2000 3187 C1960 3190 1940 3190 1920 3188 C1900 3187 1893 3185 1890 3178 Z" fill="#fff" stroke="#d4d4d4" stroke-width="3"/>
<ellipse cx="1898" cy="3082" rx="19" ry="27" transform="rotate(-15 1898 3082)" fill="#fff" stroke="#d4d4d4" stroke-width="3"/>
<ellipse cx="1938" cy="3043" rx="19" ry="27" transform="rotate(-5 1938 3043)" fill="#fff" stroke="#d4d4d4" stroke-width="3"/>
<ellipse cx="1986" cy="3048" rx="19" ry="27" transform="rotate(8 1986 3048)" fill="#fff" stroke="#d4d4d4" stroke-width="3"/>
<ellipse cx="2020" cy="3092" rx="18" ry="26" transform="rotate(20 2020 3092)" fill="#fff" stroke="#d4d4d4" stroke-width="3"/>
<text x="1910" y="3172" font-size="78" style="font-weight:700;fill:#e2e2e2;stroke:#d4d4d4;stroke-width:1.5px" textLength="92" lengthAdjust="spacingAndGlyphs">du</text>
</g>
</g>
</svg>
</body>
</html>
